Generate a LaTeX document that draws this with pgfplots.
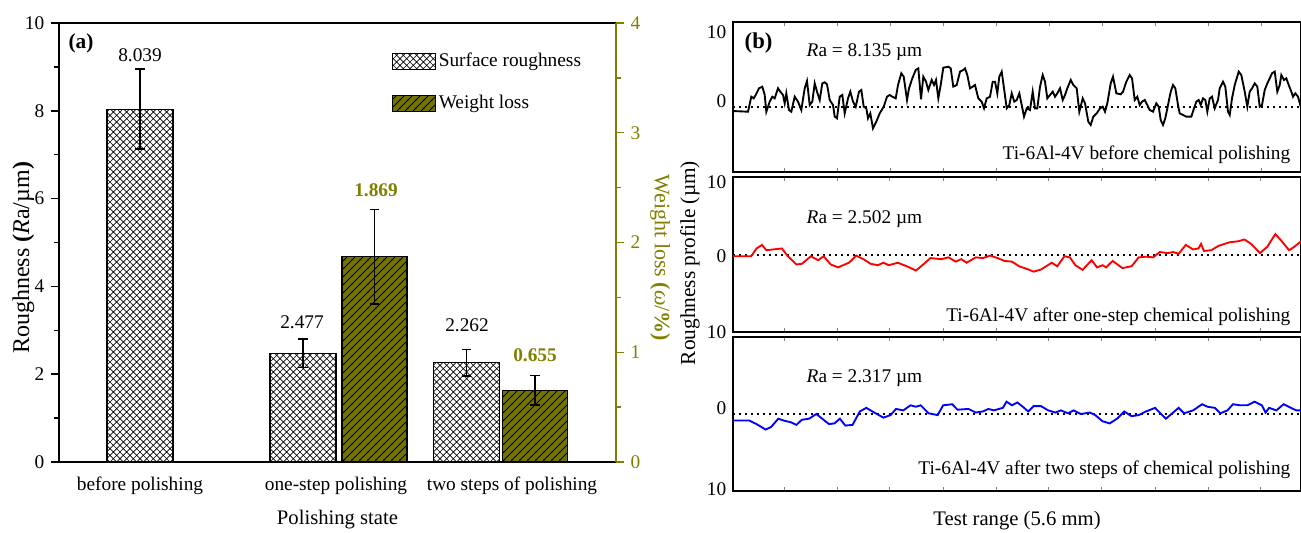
\documentclass[border=0pt]{standalone}
\usepackage{pgfplots}
\pgfplotsset{compat=1.18}
\usepackage{fontspec}
\setmainfont{Liberation Serif}
\usetikzlibrary{patterns}
\definecolor{olv}{RGB}{128,128,0}
\definecolor{olvfill}{RGB}{115,115,0}
\pgfdeclarepatternformonly{diagx}{\pgfqpoint{-0.5pt}{-0.5pt}}{\pgfqpoint{5.5pt}{5.5pt}}{\pgfqpoint{5pt}{5pt}}{%
  \pgfsetlinewidth{0.5pt}%
  \pgfpathmoveto{\pgfqpoint{-0.1pt}{-0.1pt}}\pgfpathlineto{\pgfqpoint{5.1pt}{5.1pt}}%
  \pgfpathmoveto{\pgfqpoint{-0.1pt}{5.1pt}}\pgfpathlineto{\pgfqpoint{5.1pt}{-0.1pt}}%
  \pgfusepath{stroke}}
\pgfdeclarepatternformonly{nehatch}{\pgfqpoint{-0.5pt}{-0.5pt}}{\pgfqpoint{6.5pt}{6.5pt}}{\pgfqpoint{6pt}{6pt}}{%
  \pgfsetlinewidth{0.6pt}%
  \pgfpathmoveto{\pgfqpoint{-0.2pt}{-0.2pt}}\pgfpathlineto{\pgfqpoint{6.2pt}{6.2pt}}%
  \pgfusepath{stroke}}
\tikzset{lbl/.style={font=\fontsize{15.5}{17}\selectfont}}
\pgfplotsset{
  /pgf/number format/assume math mode=true,
  pb/.style={scale only axis, width=426pt, ymin=-10, ymax=10, clip=false,
    axis line style={line width=1.5pt}, xticklabels={}, tick align=inside,
    major tick length=3pt, ytick style={draw=none}, x tick style={line width=0.6pt},
    yticklabel style={font=\fontsize{14.5}{16}\selectfont}},
  prof/.style={line width=1.4pt},
  dots/.style={black, line width=1.5pt, dash pattern=on 1.5pt off 3pt},
}
\begin{document}
\fontsize{14.5}{16}\selectfont
\begin{tikzpicture}
\useasboundingbox (0,0) rectangle (975.75pt,-399pt);
% ---------------- panel (a), left axis
\begin{axis}[
  at={(44.25pt,-346.5pt)}, anchor=south west, scale only axis,
  width=417.75pt, height=329.25pt, clip=false,
  xmin=0, xmax=557, ymin=0, ymax=10,
  axis line style={line width=1.4pt},
  ybar, bar width=66, bar shift=0pt,
  xtick={81,277,453},
  xticklabels={before polishing, one-step polishing, two steps of polishing},
  x tick style={draw=none},
  ytick={0,2,...,10}, minor ytick={1,3,5,7,9}, ytick pos=left,
  tick align=outside, major tick length=6pt, minor tick length=3.5pt,
  tick style={black, line width=1.1pt},
  ylabel={Roughness \textbf{(}\textit{R}a/µm\textbf{)}},
  ylabel style={font=\fontsize{18}{20}\selectfont, at={(axis description cs:-0.064,0.465)}, anchor=center},
  xlabel={Polishing state},
  xlabel style={lbl, at={(axis description cs:0.5,-0.132)}, anchor=center},
  error bars/y dir=both, error bars/y explicit,
  error bars/error bar style={line width=1.2pt, black},
  error bars/error mark options={rotate=90, mark size=3.5pt, line width=1.2pt, black},
]
\addplot[fill=white, postaction={pattern=diagx}, draw=black, line width=0.8pt]
  table[x=x, y=y, y error=e] {
x y e
81 8.039 0.91
244 2.477 0.32
407.5 2.262 0.30
};
\node at (axis cs:81,9.27) {8.039};
\node at (axis cs:243,3.19) {2.477};
\node at (axis cs:408,3.12) {2.262};
\node[font=\fontsize{16}{18}\selectfont\bfseries] at (axis cs:22,9.54) {(a)};
\end{axis}
% ---------------- panel (a), right axis
\begin{axis}[
  at={(44.25pt,-346.5pt)}, anchor=south west, scale only axis,
  width=417.75pt, height=329.25pt, clip=false,
  xmin=0, xmax=557, ymin=0, ymax=4,
  axis x line=none, axis y line*=right,
  y axis line style={olv, line width=1.6pt},
  ybar, bar width=65, bar shift=0pt,
  ytick={0,1,2,3,4}, minor ytick={0.5,1.5,2.5,3.5},
  tick align=outside, major tick length=6pt, minor tick length=3.5pt,
  ytick style={olv, line width=1.1pt},
  yticklabel style={olv},
  ylabel={Weight loss \textbf{(}\textit{ω}/\textbf{\%)}},
  ylabel style={font=\fontsize{16.5}{18}\selectfont, olv, at={(axis description cs:1.079,0.465)}, anchor=center, rotate=180},
  error bars/y dir=both, error bars/y explicit,
  error bars/error bar style={line width=1.2pt, black},
  error bars/error mark options={rotate=90, mark size=3.5pt, line width=1.2pt, black},
  legend image code/.code={\draw[#1, line width=0.8pt] (-4pt,-6pt) rectangle (28pt,6pt);},
  legend style={draw=none, fill=none, at={(axis description cs:0.598,0.938)}, anchor=north west,
    row sep=15pt, font=\fontsize{14.5}{16}\selectfont, inner sep=0pt},
  legend cell align=left,
]
\addlegendimage{fill=white, postaction={pattern=diagx}, draw=black}
\addlegendentry{Surface roughness}
\addplot[fill=olvfill, postaction={pattern=nehatch}, draw=black, line width=0.8pt]
  table[x=x, y=y, y error=e] {
x y e
315.5 1.869 0.43
476 0.655 0.135
};
\addlegendentry{Weight loss}
\node[olv, font=\fontsize{14.5}{16}\selectfont\bfseries] at (axis cs:317,2.48) {1.869};
\node[olv, font=\fontsize{14.5}{16}\selectfont\bfseries] at (axis cs:476,0.975) {0.655};
\end{axis}
% ---------------- panel (b1)
\begin{axis}[pb,
  at={(549.75pt,-129pt)}, anchor=south west, height=112.5pt,
  xmin=0, xmax=568,
  xtick={51,104,157,210,263,316,369,422,475,528},
  ytick={-0.53,8.67}, yticklabels={0,10},
]
\addplot[dots] coordinates {(0,-1.29) (568,-1.29)};
\addplot[black, prof] coordinates {
(0,-1.87) (15,-1.96) (18.3,0.04) (20.7,-0.18) (22.7,0.27) (26,1.16) (29.3,1.38) (31.7,0.27)
(33.3,-1.96) (36.7,-0.62) (39.3,0.04) (41.7,-0.18) (45,1.16) (47.3,0.71) (50,0.27) (51.7,-0.84)
(53.3,0.49) (56,-1.73) (58.3,-1.96) (61.7,0.04) (65,-0.62) (68.3,-1.73) (71.7,1.16) (74,2.13)
(76.7,-1.07) (79.3,-0.62) (81.7,1.82) (84,0.71) (86.7,-0.40) (89.3,1.82) (91.7,1.96) (94,1.69)
(96.7,-0.40) (100,-1.07) (101.7,-2.62) (104,-2.84) (106.7,0.04) (109.3,0.27) (111.7,-2.18)
(115,-0.18) (117.3,0.71) (120,-0.62) (122.7,-1.29) (126,0.71) (128.3,0.93) (130.7,-1.29)
(133.3,-1.51) (135,-2.84) (137.3,-2.18) (140,-4.18) (143.3,-3.29) (146.7,-2.18) (150.7,-1.29)
(154,0.04) (156.7,0.27) (159.3,0.04) (162.7,-0.18) (165,1.60) (168.3,3.16) (170.7,2.71)
(174,-0.40) (176,1.16) (179.3,2.49) (182.7,3.60) (185.3,3.82) (188,-0.3)
(190.3,2.71) (193,2.04) (195.3,0.93) (198.7,2.27) (201,1.60) (203,2.27) (205.3,-0.18) (207.7,1.60)
(210.3,3.91) (215.3,4.04) (217.7,3.82) (220.3,1.38) (223.7,1.60) (227,3.38) (230.3,3.60) (232,3.82)
(234.3,2.93) (237,1.16) (239.7,1.38) (242,1.60) (245.3,-0.18) (248.7,-0.62) (251,-1.51) (253.7,-0.18)
(257,0.04) (259.7,2.04) (262,2.04) (264.3,0.49) (266.3,2.71) (268.7,3.38) (271,1.16) (273.7,-1.51)
(276.3,-1.07) (278.7,0.49) (281.3,-0.62) (283.7,-0.40) (286.3,0.49) (288.7,-1.07) (291,-2.62)
(293.7,-1.51) (297,-1.73) (299.7,0.71) (302,-1.51) (304.3,-1.51) (307,1.38) (309.7,2.93) (312,2.04)
(314.3,-0.18) (317,0.27) (319.7,0.71) (322,0.04) (324.3,0.49) (327,1.16) (329.7,-0.40) (332,0.27)
(334.3,1.16) (337.7,2.27) (340.3,1.60) (343.7,1.16) (346.3,-1.96) (349.7,-0.18) (352,-0.84)
(355.3,-3.29) (357.7,-3.73) (360.3,-2.62) (363.7,-2.18) (367,-1.51) (369.7,-1.29) (372,-1.96)
(374.3,-0.84) (377.7,1.82) (380,2.71) (383.3,0.49) (387.7,0.36) (390,0.71) (393.3,2.04) (396.7,2.93)
(399,2.49) (401.7,-0.40) (404.3,0.04) (406.7,-1.07) (409,-0.62) (411.7,-0.40) (414.3,-1.07)
(416.7,-1.73) (420,-1.96) (423.3,-0.84) (425.7,-1.29) (427.7,-3.07) (430,-3.73) (432.3,-2.84)
(435,-1.07) (437.7,0.71) (440,1.60) (442.3,1.16) (445,-1.07) (446.7,-2.18) (450,-2.40) (453.3,-2.62)
(458.3,-2.62) (461,-1.51) (463.3,-0.62) (465.7,-0.40) (467.7,-1.07) (470,-0.18) (472.3,-0.40)
(474.3,-1.96) (476.7,-0.18) (479,0.04) (481.7,-1.51) (485,-0.40) (486.7,1.16) (490,2.04) (492.3,1.38)
(495,-1.96) (496.7,-2.40) (499,-0.18) (501.7,1.60) (505.7,3.38) (508.3,2.93) (511.7,0.71)
(514.3,-1.29) (516.7,0.71) (519,1.16) (521.7,1.82) (524.3,1.38) (526.7,-1.29) (529,-1.07) (531.7,0.93)
(534.3,1.82) (536.7,2.49) (539,3.16) (541.7,3.38) (544.3,0.71) (546.7,1.60) (548.3,2.93) (551,2.27)
(553.3,2.49) (555.7,1.60) (558.3,0.71) (560,0.04) (562.3,0.49) (565,0.04) (567.7,-1.29)
};
\node[font=\fontsize{17}{19}\selectfont\bfseries, anchor=west] at (axis cs:5,7.2) {(b)};
\node[anchor=west] at (axis cs:67,6.0) {\textit{R}a = 8.135 µm};
\node[anchor=east] at (axis cs:564,-7.73) {Ti-6Al-4V before chemical polishing};
\end{axis}
% ---------------- panel (b2)
\begin{axis}[pb,
  at={(549.75pt,-249pt)}, anchor=south west, height=116.25pt,
  xmin=0, xmax=1568,
  xtick={141,287,433,580,726,872,1018,1165,1311,1457},
  ytick={-10,-0.2,9.35}, yticklabels={10,0,10},
  ylabel={Roughness profile (µm)},
  ylabel style={font=\fontsize{16}{18}\selectfont, at={(axis description cs:-0.0757,0.445)}, anchor=center},
]
\addplot[dots] coordinates {(0,0) (1568,0)};
\addplot[red, prof] coordinates {
(0,-0.23) (50,-0.23) (65,0.78) (80,1.24) (92,0.55) (110,0.65) (135,0.78) (150,-0.14) (175,-1.29)
(190,-1.2) (215,-0.23) (235,-0.74) (250,-0.23) (270,-1.29) (290,-1.66) (320,-1.06) (340,-0.14)
(360,-0.6) (380,-1.2) (400,-1.38) (415,-1.06) (430,-1.38) (455,-1.06) (480,-1.52) (505,-2.07)
(525,-1.29) (545,-0.46) (575,-0.6) (595,-0.37) (615,-0.92) (630,-0.6) (645,-1.06) (670,-0.37)
(690,-0.46) (710,-0.14) (730,-0.46) (750,-0.83) (770,-0.92) (790,-1.52) (810,-1.84) (830,-2.21)
(850,-1.94) (880,-1.06) (895,-1.52) (915,-0.23) (930,-0.37) (945,-1.38) (965,-1.98) (990,-0.74)
(1005,-1.66) (1020,-1.38) (1030,-1.66) (1048,-0.83) (1075,-1.75) (1100,-1.52) (1120,-0.37)
(1140,-0.28) (1160,-0.37) (1178,0.32) (1200,0.18) (1215,0.32) (1230,0.09) (1250,1.24) (1270,0.65)
(1285,0.78) (1292,1.38) (1300,0.46) (1320,0.55) (1340,1.11) (1370,1.57) (1395,1.71) (1412,1.94)
(1430,1.38) (1455,0.18) (1475,1.01) (1497,2.63) (1515,1.71) (1535,0.55) (1550,1.01) (1568,1.71)
};
\node[anchor=west] at (axis cs:185,4.58) {\textit{R}a = 2.502 µm};
\node[anchor=east] at (axis cs:1557,-8.06) {Ti-6Al-4V after one-step chemical polishing};
\end{axis}
% ---------------- panel (b3)
\begin{axis}[pb,
  at={(549.75pt,-368.25pt)}, anchor=south west, height=115.5pt,
  xmin=0, xmax=1568,
  xtick={141,287,433,580,726,872,1018,1165,1311,1457},
  ytick={-9.74,0.78}, yticklabels={10,0},
  xlabel={Test range (5.6 mm)},
  xlabel style={lbl, at={(axis description cs:0.5,-0.195)}, anchor=center},
]
\addplot[dots] coordinates {(0,0) (1568,0)};
\addplot[blue, prof] coordinates {
(0,-0.85) (45,-0.85) (65,-1.31) (90,-2.02) (105,-1.69) (125,-0.61) (140,-0.85) (160,-1.08)
(175,-1.41) (190,-0.75) (210,-0.61) (230,0) (250,-0.75) (265,-1.31) (280,-1.22) (295,-0.61)
(310,-1.5) (330,-1.41) (350,0.33) (368,0.8) (390,0.19) (415,-0.47) (435,-0.14) (450,0.66)
(470,0.47) (490,1.13) (505,0.94) (518,1.13) (540,0.09) (565,-0.14) (580,1.13) (605,1.27)
(620,0.56) (650,0.66) (670,0.19) (690,0.33) (705,0.66) (720,0.47) (745,0.8) (755,1.6) (770,1.13)
(785,1.5) (800,0.94) (815,0.33) (830,1.03) (850,1.03) (870,0.47) (890,0.19) (905,0.47) (925,0.09)
(940,0.47) (960,0) (985,0.19) (1000,-0.14) (1020,-0.94) (1040,-1.22) (1060,-0.61) (1080,0.33)
(1100,-0.28) (1120,-0.14) (1140,0.33) (1165,0.8) (1180,0.09) (1195,-0.61) (1215,0.19) (1230,0.8)
(1245,0.09) (1270,0.47) (1295,1.27) (1310,0.94) (1330,0.8) (1345,0.09) (1365,0.47) (1380,1.27)
(1400,1.13) (1420,1.13) (1440,1.6) (1460,1.13) (1470,0.19) (1480,0.8) (1500,0.47) (1520,1.27)
(1540,0.8) (1555,0.47) (1568,0.47)
};
\node[anchor=west] at (axis cs:185,4.68) {\textit{R}a = 2.317 µm};
\node[anchor=east] at (axis cs:1557,-7.27) {Ti-6Al-4V after two steps of chemical polishing};
\end{axis}
\end{tikzpicture}
\end{document}
